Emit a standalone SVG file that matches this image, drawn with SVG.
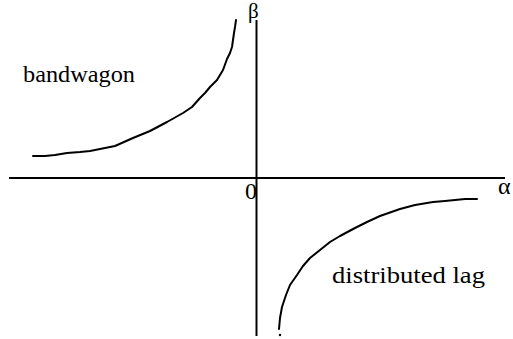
<svg xmlns="http://www.w3.org/2000/svg" width="513" height="339" viewBox="0 0 513 339">
<style>
.ax{stroke:#000;stroke-width:2;fill:none}
.cv{stroke:#000;stroke-width:2;fill:none;stroke-linejoin:round;stroke-linecap:round}
.t{font-family:"Liberation Serif","Times New Roman",serif;font-size:24px;fill:#000}
</style>
<rect width="513" height="339" fill="#fff"/>
<g id="connectors">
<line class="ax" x1="9" y1="178" x2="505" y2="178"/>
<line class="ax" x1="256.5" y1="20" x2="256.5" y2="336"/>
</g>
<g id="bandwagon-curve">
<path class="cv" d="M33,156 L45,156 L55,155 L67,153 L80,152 L90,151 L100,149 L115,146 L133,138 L150,131 L167,122 L183,113 L192,107 L200,98 L205,93 L210,87 L217,80 L223,70 L227,59 L230,53 L232,47 L233,40 L234,33 L235,27 L236,20"/>
</g>
<g id="lag-curve">
<path class="cv" d="M279,329 L280,318 L282,307 L286,295 L290,285 L297,275 L303,266 L310,258 L320,250 L330,242 L340,236 L355,228 L367,222 L380,216 L400,209 L415,205 L433,202 L445,201 L455,200 L465,199 L477,199"/>
<circle cx="280" cy="335" r="1.2" fill="#000"/>
</g>
<g id="labels">
<text class="t" x="23" y="82" textLength="112" lengthAdjust="spacingAndGlyphs">bandwagon</text>
<text class="t" x="332" y="283" textLength="153" lengthAdjust="spacingAndGlyphs">distributed lag</text>
<text class="t" x="245" y="199">0</text>
<text class="t" x="498" y="194">α</text>
<text class="t" x="248" y="18" style="font-size:21px">β</text>
</g>
</svg>
